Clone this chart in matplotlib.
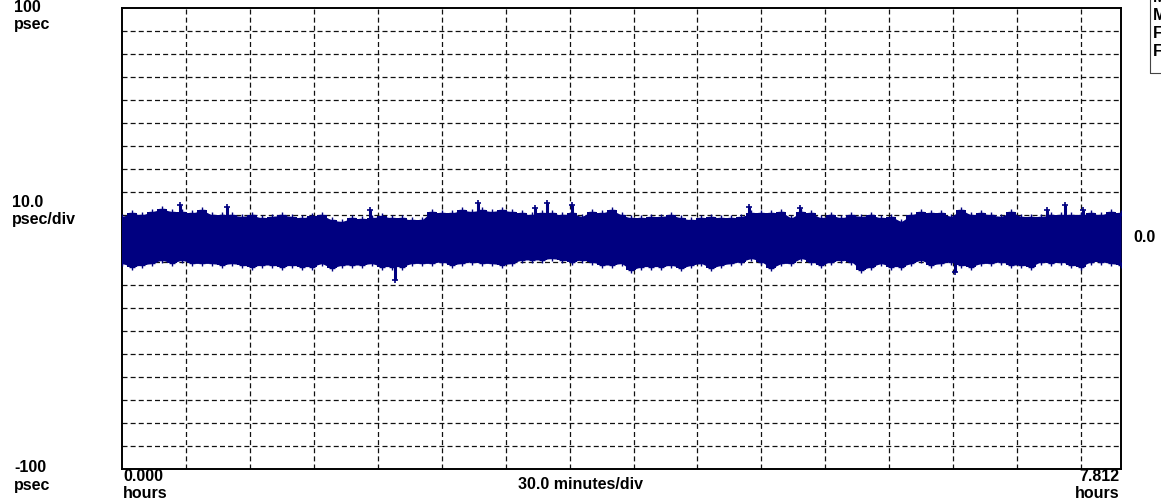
import numpy as np
import matplotlib.pyplot as plt
from matplotlib.patches import Rectangle

# time span (hours) and band envelope, in psec
span_hours = 7.812
upper = [9.5, 10.9, 10.2, 11.6, 12.8, 11.6, 11.6, 10.9, 12.4, 10.2,
         10.2, 10.2, 9.5, 10.2, 8.8, 9.5, 10.2, 9.5, 8.8, 9.9,
         10.2, 8.0, 7.3, 8.8, 8.5, 8.8, 9.9, 8.8, 8.8, 8.0,
         8.0, 11.6, 10.9, 10.9, 12.4, 11.6, 12.4, 11.6, 12.4, 11.6,
         10.9, 10.2, 10.9, 10.9, 10.2, 10.9, 9.5, 11.6, 10.9, 12.4,
         10.2, 8.8, 8.8, 9.5, 9.5, 10.2, 8.8, 8.0, 8.8, 9.5,
         8.8, 8.8, 9.5, 10.9, 10.9, 10.9, 11.6, 8.8, 11.6, 10.9,
         8.8, 10.2, 8.8, 10.2, 9.5, 10.2, 8.8, 9.5, 7.3, 10.2,
         11.6, 10.9, 10.9, 9.5, 12.4, 10.2, 10.9, 10.2, 9.5, 11.6,
         9.5, 9.5, 9.5, 10.2, 10.2, 10.2, 10.2, 10.9, 10.2, 11.6, 10.9]
lower = [-10.8, -12.2, -11.5, -10.8, -9.3, -10.8, -9.3, -10.8, -10.8, -10.8,
         -11.5, -10.8, -11.5, -12.2, -11.5, -11.5, -12.2, -11.5, -12.2, -12.2,
         -10.8, -12.9, -11.5, -11.5, -11.5, -10.8, -12.2, -12.2, -12.2, -10.8,
         -10.8, -10.8, -10.0, -11.5, -10.8, -10.0, -10.8, -10.8, -11.5, -10.8,
         -9.3, -9.3, -9.3, -8.6, -9.3, -10.0, -9.3, -10.0, -11.5, -11.5,
         -10.8, -13.7, -12.2, -12.2, -12.2, -11.5, -12.9, -11.5, -10.8, -12.9,
         -11.5, -10.8, -10.0, -8.6, -10.0, -12.9, -10.8, -10.8, -8.6, -10.0,
         -11.5, -10.0, -9.3, -10.0, -13.7, -12.2, -10.8, -12.2, -12.2, -10.8,
         -9.3, -11.5, -10.8, -10.0, -11.5, -12.2, -10.8, -10.8, -10.0, -11.5,
         -11.5, -12.2, -10.0, -10.8, -10.0, -11.5, -12.2, -10.0, -10.0, -10.8, -11.5]

# isolated outliers (hours, psec)
spike_t = [0.454, 0.819, 1.939, 2.135, 2.787, 3.230, 3.321, 3.517,
           4.906, 5.302, 6.514, 7.231, 7.374, 7.517]
spike_v = [14.5, 13.8, 12.4, -18.0, 15.3, 13.4, 15.3, 14.5,
           13.8, 13.1, -14.4, 12.4, 14.5, 12.4]

navy = '#000080'
W, H = 1161, 504

fig = plt.figure(figsize=(W / 100, H / 100), dpi=100)
ax = fig.add_axes([122 / W, 1 - 469 / H, (1121 - 122) / W, (469 - 8) / H])

t = np.linspace(0, span_hours, len(upper))
ax.fill_between(t, lower, upper, color=navy, lw=0, zorder=3)
ax.fill_between(t, lower, upper, color=navy, lw=0, step='mid', zorder=3)
ax.plot(t, upper, '+', color=navy, ms=4, mew=1, zorder=3)
ax.plot(t, lower, '+', color=navy, ms=4, mew=1, zorder=3)
ax.vlines(spike_t, 0, spike_v, color=navy, lw=2.2, zorder=3)
ax.plot(spike_t, spike_v, '+', color=navy, ms=5, mew=1.2, zorder=3)

ax.set_xlim(0, span_hours)
ax.set_ylim(-100, 100)
ax.set_xticks(np.arange(0.5, span_hours, 0.5))
ax.set_yticks(np.arange(-90, 100, 10))
ax.tick_params(length=0, labelbottom=False, labelleft=False)
ax.grid(True, color='#111111', lw=0.9, linestyle=(0, (4, 2.5)), zorder=1)
for s in ax.spines.values():
    s.set_linewidth(1.4)

def label(x, y, s, ha='left'):
    fig.text(x / W, 1 - y / H, s, ha=ha, va='top', fontsize=11.5,
             fontweight='bold', family='Liberation Sans')

label(14, 0, '100')
label(14, 17, 'psec')
label(12, 195, '10.0')
label(12, 212, 'psec/div')
label(14, 460, '-100')
label(14, 478, 'psec')
label(123, 469, '0.000')
label(123, 486, 'hours')
label(1120, 469, '7.812', ha='right')
label(1120, 486, 'hours', ha='right')
label(580, 477, '30.0 minutes/div', ha='center')
label(1133, 230, '0.0')

# clipped legend box at the top right
fig.patches.append(Rectangle((1150 / W, 1 - 73 / H), 40 / W, 80 / H,
                             transform=fig.transFigure, fill=False,
                             ec='#444444', lw=0.8))
for y, s in [(-10, 'M'), (8, 'M'), (26, 'F'), (44, 'F')]:
    label(1153, y, s)

fig.savefig('out.png', dpi=100)
